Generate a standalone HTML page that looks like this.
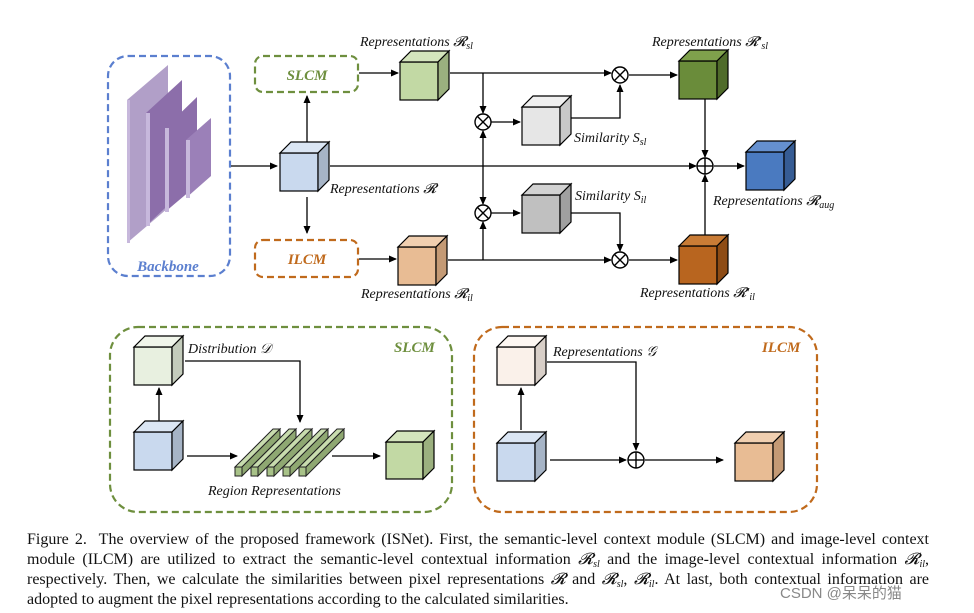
<!DOCTYPE html>
<html><head><meta charset="utf-8"><style>
body{margin:0;background:#fff;width:974px;height:613px;overflow:hidden;position:relative;font-family:"Liberation Serif",serif}
svg{position:absolute;left:0;top:0}
.cap{position:absolute;left:27px;top:530px;width:902px;font-size:16px;line-height:20px;color:#111}
.cap div{text-align:justify;text-align-last:justify;white-space:nowrap}
.cap div.l{text-align-last:left}
.cap sub{font-size:10px;line-height:0;vertical-align:-3px}
.wm{position:absolute;left:780px;top:582px;font:15px "Liberation Sans","Noto Sans CJK SC",sans-serif;color:#888}
</style></head><body>
<svg id="s" width="974" height="613" viewBox="0 0 974 613" font-family="Liberation Serif, serif" font-style="italic" font-size="14">
<defs><marker id="a" markerWidth="8" markerHeight="8" refX="7" refY="4" orient="auto" markerUnits="userSpaceOnUse"><path d="M0,0.5 L8,4 L0,7.5z" fill="#000"/></marker></defs>
<g fill="none" stroke-width="2.2" stroke-dasharray="7,4">
<rect x="108" y="56" width="122" height="220" rx="20" stroke="#5b7fcf"/>
<rect x="255" y="56" width="103" height="36" rx="8" stroke="#6e8f3e"/>
<rect x="255" y="240" width="103" height="37" rx="8" stroke="#c06a1c"/>
<rect x="110" y="327" width="342" height="185" rx="28" stroke="#6e8f3e"/>
<rect x="474" y="327" width="343" height="185" rx="28" stroke="#c06a1c"/>
</g>
<g font-weight="bold" font-size="15">
<text x="168" y="271" text-anchor="middle" fill="#5b7fcf">Backbone</text>
<text x="307" y="80" text-anchor="middle" fill="#6e8f3e">SLCM</text>
<text x="307" y="264" text-anchor="middle" fill="#c06a1c">ILCM</text>
<text x="394" y="352" fill="#6e8f3e">SLCM</text>
<text x="762" y="352" fill="#c06a1c">ILCM</text>
</g>
<g>
<polygon points="127,100 168,65 168,208 127,243" fill="#b19fc8"/><polygon points="127,100 130,100 130,243 127,243" fill="#c7b8dc"/>
<polygon points="146,113 182,80 182,192 146,226" fill="#8c6eaa"/><polygon points="146,113 150,113 150,226 146,226" fill="#c7b8dc"/>
<polygon points="165,128 197,97 197,185 165,212" fill="#8c6eaa"/><polygon points="165,128 169,128 169,212 165,212" fill="#c7b8dc"/>
<polygon points="186,140 211,118 211,176 186,198" fill="#9b80b8"/><polygon points="186,140 190,140 190,198 186,198" fill="#c7b8dc"/>
</g>
<g stroke="#000" stroke-width="1.3" fill="none">
<line x1="231" y1="166" x2="277" y2="166" marker-end="url(#a)"/>
<line x1="307" y1="146" x2="307" y2="96" marker-end="url(#a)"/>
<line x1="307" y1="197" x2="307" y2="233" marker-end="url(#a)"/>
<line x1="359" y1="73" x2="398" y2="73" marker-end="url(#a)"/>
<line x1="359" y1="259" x2="396" y2="259" marker-end="url(#a)"/>
<line x1="450" y1="73" x2="611" y2="73" marker-end="url(#a)"/>
<line x1="483" y1="73" x2="483" y2="113" marker-end="url(#a)"/>
<line x1="491" y1="122" x2="520" y2="122" marker-end="url(#a)"/>
<polyline points="561,118 620,118 620,85" marker-end="url(#a)"/>
<line x1="330" y1="166" x2="696" y2="166" marker-end="url(#a)"/>
<line x1="483" y1="166" x2="483" y2="131" marker-end="url(#a)"/>
<line x1="483" y1="166" x2="483" y2="204" marker-end="url(#a)"/>
<line x1="491" y1="213" x2="520" y2="213" marker-end="url(#a)"/>
<polyline points="561,213 620,213 620,251" marker-end="url(#a)"/>
<line x1="448" y1="260" x2="611" y2="260" marker-end="url(#a)"/>
<line x1="483" y1="260" x2="483" y2="222" marker-end="url(#a)"/>
<line x1="629" y1="260" x2="677" y2="260" marker-end="url(#a)"/>
<line x1="629" y1="75" x2="677" y2="75" marker-end="url(#a)"/>
<line x1="705" y1="99" x2="705" y2="157" marker-end="url(#a)"/>
<line x1="705" y1="240" x2="705" y2="175" marker-end="url(#a)"/>
<line x1="714" y1="166" x2="744" y2="166" marker-end="url(#a)"/>
<line x1="159" y1="429" x2="159" y2="388" marker-end="url(#a)"/>
<polyline points="185,361 300,361 300,422" marker-end="url(#a)"/>
<line x1="187" y1="456" x2="237" y2="456" marker-end="url(#a)"/>
<line x1="332" y1="456" x2="380" y2="456" marker-end="url(#a)"/>
<line x1="521" y1="430" x2="521" y2="388" marker-end="url(#a)"/>
<polyline points="547,362 636,362 636,450" marker-end="url(#a)"/>
<line x1="550" y1="460" x2="626" y2="460" marker-end="url(#a)"/>
<line x1="645" y1="460" x2="723" y2="460" marker-end="url(#a)"/>
</g>
<g id="ops" stroke="#000" stroke-width="1.4" fill="#fff"></g>
<g id="cubes" stroke="#000" stroke-width="1.2"></g>
<g id="bars" stroke="#222" stroke-width="1"></g>
<g fill="#111">
<text x="360" y="46">Representations 𝓡<tspan font-size="10" dy="3">sl</tspan></text>
<text x="652" y="46">Representations 𝓡′<tspan font-size="10" dy="3">sl</tspan></text>
<text x="330" y="193">Representations 𝓡</text>
<text x="574" y="142">Similarity S<tspan font-size="10" dy="3">sl</tspan></text>
<text x="575" y="200">Similarity S<tspan font-size="10" dy="3">il</tspan></text>
<text x="713" y="205">Representations 𝓡<tspan font-size="10" dy="3">aug</tspan></text>
<text x="361" y="298">Representations 𝓡<tspan font-size="10" dy="3">il</tspan></text>
<text x="640" y="297">Representations 𝓡′<tspan font-size="10" dy="3">il</tspan></text>
<text x="188" y="353">Distribution 𝒟</text>
<text x="208" y="495">Region Representations</text>
<text x="553" y="356">Representations 𝒢</text>
</g>
</svg>
<div class="cap">
<div>Figure 2.&nbsp; The overview of the proposed framework (ISNet). First, the semantic-level context module (SLCM) and image-level context</div>
<div>module (ILCM) are utilized to extract the semantic-level contextual information <i>𝓡<sub>sl</sub></i> and the image-level contextual information <i>𝓡<sub>il</sub></i>,</div>
<div>respectively. Then, we calculate the similarities between pixel representations <i>𝓡</i> and <i>𝓡<sub>sl</sub></i>, <i>𝓡<sub>il</sub></i>. At last, both contextual information are</div>
<div class="l">adopted to augment the pixel representations according to the calculated similarities.</div>
</div>
<div class="wm">CSDN @呆呆的猫</div>
<script>
var NS="http://www.w3.org/2000/svg";
function el(p,t,a){var e=document.createElementNS(NS,t);for(var k in a)e.setAttribute(k,a[k]);p.appendChild(e);return e;}
var C=document.getElementById("cubes");
function cube(x,y,s,f,t,sd){var d=11;
el(C,"rect",{x:x,y:y,width:s,height:s,fill:f});
el(C,"polygon",{points:[x,y,x+d,y-d,x+s+d,y-d,x+s,y].join(","),fill:t});
el(C,"polygon",{points:[x+s,y,x+s+d,y-d,x+s+d,y+s-d,x+s,y+s].join(","),fill:sd});}
cube(280,153,38,"#c9d9ee","#dbe6f4","#a6b4c6");
cube(400,62,38,"#c2d9a4","#d4e5bd","#9bb07f");
cube(398,247,38,"#e8bc94","#f0cfb0","#c49a75");
cube(522,107,38,"#e6e6e6","#f0f0f0","#c8c8c8");
cube(522,195,38,"#c0c0c0","#d2d2d2","#a0a0a0");
cube(679,61,38,"#6a8c3a","#7fa14c","#4f6b2a");
cube(679,246,38,"#b8651f","#c97c36","#8e4c15");
cube(746,152,38,"#4a7ac0","#6590cf","#365c94");
cube(134,347,38,"#e8f0e0","#f0f5ea","#c4ccbc");
cube(134,432,38,"#c9d9ee","#dbe6f4","#a6b4c6");
cube(386,442,37,"#c2d9a4","#d4e5bd","#9bb07f");
cube(497,347,38,"#faf1ea","#fdf7f2","#d8cfc8");
cube(497,443,38,"#c9d9ee","#dbe6f4","#a6b4c6");
cube(735,443,38,"#e8bc94","#f0cfb0","#c49a75");
var B=document.getElementById("bars");
for(var i=4;i>=0;i--){var x=235+i*16,y=467;
el(B,"polygon",{points:[x,y,x+38,y-38,x+45,y-38,x+7,y].join(","),fill:"#c8dcae"});
el(B,"polygon",{points:[x+7,y,x+45,y-38,x+45,y-29,x+7,y+9].join(","),fill:"#8fa872"});
el(B,"rect",{x:x,y:y,width:7,height:9,fill:"#a8c288"});}
var O=document.getElementById("ops");
function op(x,y,m){el(O,"circle",{cx:x,cy:y,r:8});
if(m){el(O,"line",{x1:x-5.6,y1:y-5.6,x2:x+5.6,y2:y+5.6});el(O,"line",{x1:x-5.6,y1:y+5.6,x2:x+5.6,y2:y-5.6});}
else{el(O,"line",{x1:x-8,y1:y,x2:x+8,y2:y});el(O,"line",{x1:x,y1:y-8,x2:x,y2:y+8});}}
op(483,122,1);op(483,213,1);op(620,75,1);op(620,260,1);op(705,166,0);op(636,460,0);
</script>
</body></html>
